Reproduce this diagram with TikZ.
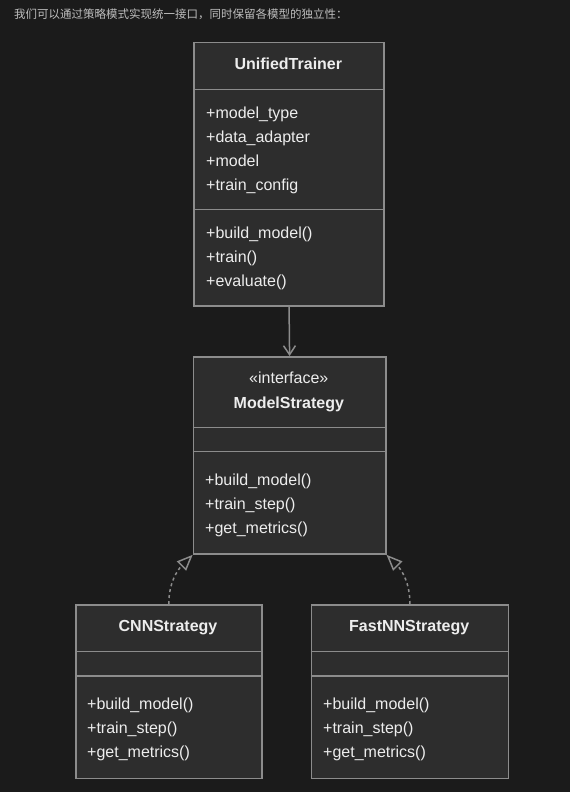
\documentclass[tikz,border=0pt]{standalone}
\usepackage{fontspec}
\setmainfont{Liberation Sans}
\newfontfamily\cjk{Noto Sans CJK SC}
\usetikzlibrary{arrows.meta}
\definecolor{bg}{HTML}{1B1B1B}
\definecolor{boxfill}{HTML}{2D2D2D}
\definecolor{boxline}{HTML}{8C8C8C}
\definecolor{txt}{HTML}{EDEDED}
\definecolor{headtxt}{HTML}{BDBDBD}
\tikzset{
  classbox/.style={draw=boxline, fill=boxfill, line width=1.5pt, inner sep=0pt, anchor=north west},
  divider/.style={draw=boxline, line width=1.5pt},
  member/.style={anchor=base west, inner sep=0pt, text=txt, font=\fontsize{16}{19}\selectfont},
  classname/.style={anchor=base, inner sep=0pt, text=txt, font=\fontsize{16}{19}\selectfont\bfseries},
  assoc/.style={draw=boxline, line width=1.5pt, -{Straight Barb[length=9pt,width=12pt]}},
  realize/.style={draw=boxline, line width=1.5pt, dash pattern=on 3pt off 3pt, -{Triangle[open,length=16pt,width=13pt]}},
}
\begin{document}
\begin{tikzpicture}[x=1pt,y=-1pt]
\fill[bg] (0,0) rectangle (570,792);
\useasboundingbox (0,0) rectangle (570,792);
\node[anchor=base west, inner sep=0pt, text=headtxt, font=\cjk\fontsize{11.5}{14}\selectfont] (intro) at (14,19) {我们可以通过策略模式实现统一接口，同时保留各模型的独立性：};

% ------ UnifiedTrainer -------------------
\node[classbox, minimum width=190pt, minimum height=263.3pt] (trainer) at (193.3,41.7) {};
\draw[divider] (193.3,89.3) -- (383.3,89.3);
\draw[divider] (193.3,209.3) -- (383.3,209.3);
\node[classname] (trainer-name) at (288.3,70) {UnifiedTrainer};
\node[member] (trainer-a1) at (206,118) {+model\_type};
\node[member] (trainer-a2) at (206,142) {+data\_adapter};
\node[member] (trainer-a3) at (206,166) {+model};
\node[member] (trainer-a4) at (206,190) {+train\_config};
\node[member] (trainer-m1) at (206,238) {+build\_model()};
\node[member] (trainer-m2) at (206,262) {+train()};
\node[member] (trainer-m3) at (206,286) {+evaluate()};

% ------ ModelStrategy -------------------
\node[classbox, minimum width=192.3pt, minimum height=197.3pt] (strategy) at (192.7,356) {};
\draw[divider] (192.7,427.7) -- (385,427.7);
\draw[divider] (192.7,451.7) -- (385,451.7);
\node[anchor=base, inner sep=0pt, text=txt, font=\fontsize{16}{19}\selectfont] (strategy-stereo) at (288.8,383.5) {«interface»};
\node[classname] (strategy-name) at (288.8,408.3) {ModelStrategy};
\node[member] (strategy-m1) at (205,485.5) {+build\_model()};
\node[member] (strategy-m2) at (205,509.5) {+train\_step()};
\node[member] (strategy-m3) at (205,533.5) {+get\_metrics()};

% ------ CNNStrategy -------------------
\node[classbox, minimum width=186pt, minimum height=173.7pt] (cnn) at (75,604) {};
\draw[divider] (75,651.7) -- (261,651.7);
\draw[divider] (75,676) -- (261,676);
\node[classname] (cnn-name) at (168,631.7) {CNNStrategy};
\node[member] (cnn-m1) at (87,709.3) {+build\_model()};
\node[member] (cnn-m2) at (87,733.3) {+train\_step()};
\node[member] (cnn-m3) at (87,757.3) {+get\_metrics()};

% ------ FastNNStrategy -------------------
\node[classbox, minimum width=197pt, minimum height=173.7pt] (fastnn) at (310.7,604) {};
\draw[divider] (310.7,651.7) -- (507.7,651.7);
\draw[divider] (310.7,676) -- (507.7,676);
\node[classname] (fastnn-name) at (409.2,631.7) {FastNNStrategy};
\node[member] (fastnn-m1) at (323,709.3) {+build\_model()};
\node[member] (fastnn-m2) at (323,733.3) {+train\_step()};
\node[member] (fastnn-m3) at (323,757.3) {+get\_metrics()};

% ------ relations -------------------
\draw[assoc] (trainer.south) -- (strategy.north);
\draw[realize] (cnn.north) to[out=90, in=-135] (strategy.south west);
\draw[realize] (fastnn.north) to[out=90, in=-45] (strategy.south east);
\end{tikzpicture}
\end{document}
